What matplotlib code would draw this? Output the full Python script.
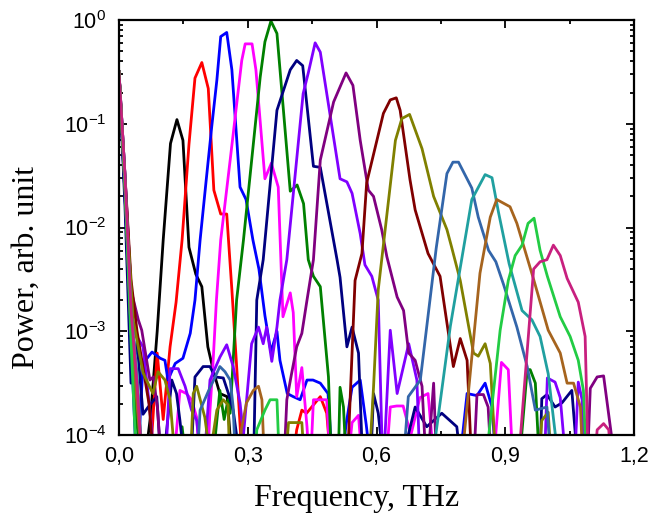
import matplotlib
matplotlib.use('Agg')
import matplotlib.pyplot as plt
import numpy as np
from matplotlib.ticker import MultipleLocator, FuncFormatter, LogLocator, NullFormatter

plt.rcParams['font.family'] = ['Liberation Sans', 'DejaVu Sans']
plt.rcParams['mathtext.default'] = 'regular'

# spectra: frequency (THz) and log10(power); -4.4 = below the plotted floor
f_black = [0, 0.014, 0.028, 0.042, 0.056, 0.074, 0.089, 0.103, 0.120, 0.135, 0.149, 0.163, 0.179, 0.193, 0.207, 0.221, 0.235, 0.252, 0.266]
lg_black = [-0.5, -1.7, -2.9, -3.5, -4.4, -3.8, -3.0, -2.12, -1.19, -0.96, -1.16, -2.19, -2.45, -2.57, -3.15, -3.4, -3.6, -3.63, -4.4]

f_red = [0, 0.014, 0.028, 0.042, 0.056, 0.075, 0.089, 0.103, 0.119, 0.133, 0.147, 0.163, 0.177, 0.193, 0.208,
         0.221, 0.237, 0.251, 0.263, 0.275, 0.289, 0.400, 0.414, 0.426, 0.437, 0.453, 0.469, 0.484, 0.496]
lg_red = [-0.5, -1.6, -3.0, -3.7, -4.4, -4.1, -3.21, -3.85, -3.15, -2.72, -2.12, -1.2, -0.56, -0.41, -0.66,
          -1.64, -1.87, -1.87, -2.6, -3.4, -4.4, -4.4, -3.95, -3.76, -3.79, -3.71, -3.63, -3.79, -4.4]

f_blue = [0, 0.014, 0.028, 0.042, 0.056, 0.077, 0.096, 0.107, 0.114, 0.131, 0.149, 0.166, 0.177, 0.189, 0.203,
          0.216, 0.228, 0.237, 0.251, 0.263, 0.282, 0.296, 0.312, 0.326, 0.340, 0.354, 0.368, 0.375, 0.392, 0.406,
          0.422, 0.438, 0.452, 0.469, 0.487, 0.499, 0.515, 0.529, 0.543, 0.562, 0.576, 0.590, 0.790, 0.811, 0.834,
          0.853, 0.869, 0.881]
lg_blue = [-0.5, -1.7, -3.1, -4.4, -3.31, -3.2, -3.26, -3.28, -3.47, -3.31, -3.26, -3.02, -2.7, -2.12, -1.55,
           -1.03, -0.58, -0.16, -0.12, -0.48, -1.61, -1.73, -2.12, -2.4, -2.85, -3.2, -3.0, -3.28, -3.6, -3.63,
           -3.66, -3.47, -3.47, -3.5, -3.6, -4.4, -4.4, -3.9, -3.54, -3.47, -3.9, -4.4, -4.4, -3.6, -3.62,
           -3.5, -3.73, -4.4]

f_mag = [0, 0.014, 0.028, 0.042, 0.056, 0.125, 0.142, 0.157, 0.169, 0.181, 0.190, 0.205, 0.212, 0.219, 0.227,
         0.237, 0.259, 0.286, 0.294, 0.310, 0.319, 0.340, 0.355, 0.371, 0.382, 0.399, 0.406, 0.414, 0.426, 0.438,
         0.445, 0.453, 0.461, 0.484, 0.494, 0.530, 0.543, 0.558, 0.569, 0.620, 0.632, 0.647, 0.662, 0.680, 0.701,
         0.720, 0.737, 0.870, 0.891, 0.907, 0.919]
lg_mag = [-0.5, -1.6, -2.9, -3.5, -4.4, -4.4, -3.57, -3.6, -3.66, -3.83, -4.4, -4.4, -3.76, -3.31, -2.7,
          -2.12, -1.35, -0.39, -0.23, -0.23, -0.48, -1.53, -1.38, -1.61, -2.86, -2.63, -2.82, -3.63, -3.35, -3.92,
          -4.4, -3.66, -3.66, -3.66, -4.4, -4.4, -3.88, -3.81, -4.4, -4.4, -3.73, -3.72, -3.72, -4.0, -3.64,
          -3.6, -4.4, -4.4, -3.3, -3.37, -4.4]

f_green = [0, 0.014, 0.028, 0.042, 0.056, 0.135, 0.147, 0.160, 0.215, 0.235, 0.245, 0.254, 0.259, 0.274, 0.290,
           0.329, 0.340, 0.354, 0.368, 0.399, 0.415, 0.430, 0.441, 0.453, 0.469, 0.488, 0.496, 0.510, 0.515, 0.523,
           0.531, 0.930, 0.951, 0.958, 0.970, 0.981]
lg_green = [-0.5, -1.6, -3.1, -3.9, -4.4, -4.4, -3.92, -4.4, -4.4, -3.57, -3.85, -3.66, -3.79, -2.7, -2.12,
            -0.55, -0.21, -0.01, -0.13, -1.65, -1.59, -1.77, -2.31, -2.47, -2.57, -3.44, -4.4, -4.4, -3.54, -3.73,
            -4.4, -4.4, -3.37, -3.37, -3.5, -4.4]

f_navy = [0, 0.014, 0.028, 0.042, 0.056, 0.068, 0.088, 0.100, 0.123, 0.134, 0.142, 0.156, 0.166, 0.177, 0.196,
          0.212, 0.224, 0.243, 0.255, 0.266, 0.274, 0.282, 0.313, 0.321, 0.336, 0.368, 0.399, 0.414, 0.428, 0.453,
          0.469, 0.508, 0.515, 0.531, 0.543, 0.558, 0.569, 0.585, 0.593, 0.604, 0.620, 0.650, 0.690, 0.717, 0.752,
          0.787, 0.800, 0.980, 0.985, 0.997, 1.016, 1.032, 1.055, 1.071]
lg_navy = [-0.5, -1.8, -3.5, -3.1, -3.8, -3.73, -3.63, -4.4, -3.47, -3.6, -3.86, -4.4, -4.4, -3.44, -3.34,
           -3.34, -3.44, -3.45, -3.6, -3.76, -4.0, -4.4, -4.4, -2.7, -2.31, -0.87, -0.48, -0.39, -0.44, -1.41,
           -1.42, -2.31, -2.48, -3.15, -2.96, -3.21, -4.4, -4.4, -3.6, -3.79, -4.4, -4.4, -3.73, -3.92, -3.79,
           -3.92, -4.4, -4.4, -3.65, -3.61, -3.73, -3.69, -3.57, -4.4]

f_vio = [0, 0.014, 0.033, 0.056, 0.072, 0.086, 0.107, 0.119, 0.138, 0.154, 0.169, 0.181, 0.196, 0.212, 0.235,
         0.251, 0.266, 0.282, 0.290, 0.309, 0.325, 0.336, 0.344, 0.356, 0.368, 0.375, 0.391, 0.429, 0.441, 0.457,
         0.469, 0.515, 0.531, 0.543, 0.562, 0.573, 0.589, 0.604, 0.615, 0.632, 0.648, 0.675, 0.694, 0.702, 0.990,
         0.998, 1.016, 1.028, 1.044, 1.060, 1.070, 1.079, 1.086]
lg_vio = [-0.5, -1.5, -2.99, -3.15, -3.76, -4.4, -4.4, -3.36, -3.36, -3.53, -3.76, -3.86, -4.4, -3.47, -3.25,
          -3.13, -3.34, -3.69, -4.0, -3.12, -2.96, -3.12, -2.96, -3.29, -2.96, -2.7, -2.31, -0.71, -0.51, -0.22,
          -0.31, -1.53, -1.56, -1.67, -2.06, -2.36, -2.47, -2.7, -4.4, -2.99, -3.6, -3.12, -3.47, -4.4, -4.4,
          -3.45, -3.49, -3.64, -4.4, -4.4, -3.49, -3.66, -4.4]

f_pur = [0, 0.014, 0.028, 0.045, 0.053, 0.072, 0.080, 0.090, 0.100, 0.383, 0.391, 0.402, 0.414, 0.426, 0.438,
         0.453, 0.469, 0.500, 0.529, 0.545, 0.562, 0.581, 0.593, 0.612, 0.624, 0.648, 0.663, 0.675, 0.690, 0.706,
         0.717, 0.733, 0.741, 0.825, 0.834, 0.849, 0.860, 0.869, 1.090, 1.098, 1.114, 1.129, 1.160]
lg_pur = [-0.5, -1.5, -2.6, -2.89, -2.99, -3.47, -3.44, -3.75, -4.4, -4.4, -3.66, -3.41, -3.15, -3.02, -2.7,
          -2.31, -1.35, -0.79, -0.51, -0.63, -1.16, -1.64, -1.7, -2.02, -2.28, -2.67, -2.8, -3.21, -3.28, -3.53,
          -4.4, -3.5, -4.4, -4.4, -3.61, -3.61, -3.73, -4.4, -4.4, -3.55, -3.44, -3.43, -4.4]

f_mar = [0, 0.014, 0.028, 0.042, 0.056, 0.070, 0.084, 0.531, 0.550, 0.566, 0.577, 0.616, 0.632, 0.646, 0.655,
         0.678, 0.690, 0.720, 0.734, 0.748, 0.779, 0.795, 0.811, 0.823]
lg_mar = [-0.5, -1.5, -2.5, -3.0, -3.35, -3.7, -4.4, -4.4, -2.51, -2.25, -1.57, -0.9, -0.77, -0.75, -0.87,
          -1.54, -1.83, -2.25, -2.36, -2.47, -3.34, -3.07, -3.28, -4.4]

f_oli = [0, 0.014, 0.033, 0.056, 0.079, 0.091, 0.107, 0.119, 0.134, 0.165, 0.173, 0.181, 0.200, 0.212, 0.228,
         0.243, 0.254, 0.259, 0.385, 0.395, 0.406, 0.426, 0.434, 0.581, 0.593, 0.604, 0.644, 0.659, 0.677, 0.706,
         0.733, 0.764, 0.775, 0.795, 0.826, 0.837, 0.853, 0.865, 0.880, 0.975, 0.985, 1.000, 1.009]
lg_oli = [-0.5, -1.6, -2.89, -3.4, -3.6, -3.39, -3.47, -3.66, -4.4, -4.4, -3.6, -3.53, -3.83, -4.2, -3.76,
          -3.66, -3.71, -4.4, -4.4, -3.88, -3.88, -3.88, -4.4, -4.4, -3.54, -2.6, -1.16, -0.95, -0.91, -1.24,
          -1.7, -2.02, -2.19, -2.51, -3.21, -3.24, -3.12, -3.31, -4.4, -4.4, -3.86, -3.78, -4.4]

f_stl = [0, 0.014, 0.028, 0.042, 0.056, 0.180, 0.189, 0.208, 0.224, 0.235, 0.247, 0.259, 0.266, 0.273, 0.660,
         0.674, 0.702, 0.739, 0.764, 0.778, 0.791, 0.822, 0.837, 0.861, 0.878, 0.896, 0.927, 0.951, 0.970, 0.997,
         1.009]
lg_stl = [-0.5, -1.6, -3.0, -3.6, -4.4, -4.4, -3.76, -3.58, -3.44, -3.34, -3.39, -3.47, -3.73, -4.4, -4.4,
          -3.63, -3.47, -2.2, -1.48, -1.37, -1.37, -1.62, -1.9, -2.22, -2.33, -2.55, -2.96, -3.34, -3.76, -3.73,
          -4.4]

f_teal = [0, 0.014, 0.028, 0.042, 0.056, 0.725, 0.772, 0.822, 0.853, 0.869, 0.884, 0.909, 0.939, 0.962, 0.981,
          1.000, 1.028]
lg_teal = [-0.5, -1.5, -2.8, -3.4, -4.4, -4.4, -2.95, -1.73, -1.49, -1.52, -1.85, -2.35, -2.8, -2.89, -3.05,
           -3.41, -4.4]

f_brn = [0, 0.014, 0.028, 0.042, 0.056, 0.280, 0.285, 0.297, 0.313, 0.325, 0.333, 0.340, 0.795, 0.841, 0.865,
         0.880, 0.911, 0.927, 0.966, 1.000, 1.028, 1.044, 1.059, 1.075, 1.082]
lg_brn = [-0.5, -1.6, -3.0, -3.7, -4.4, -4.4, -3.95, -3.69, -3.57, -3.53, -3.66, -4.4, -4.4, -2.44, -1.9,
          -1.73, -1.8, -1.96, -2.5, -2.99, -3.21, -3.5, -3.5, -3.73, -4.4]

f_lime = [0, 0.014, 0.028, 0.042, 0.315, 0.321, 0.340, 0.352, 0.368, 0.375, 0.851, 0.888, 0.907, 0.923, 0.939,
          0.953, 0.967, 0.981, 0.998, 1.028, 1.051, 1.070, 1.082, 1.090]
lg_lime = [-0.5, -1.6, -3.1, -4.4, -4.4, -3.95, -3.76, -3.66, -3.66, -4.4, -4.4, -2.99, -2.51, -2.27, -2.17,
           -1.96, -1.91, -2.22, -2.47, -2.86, -3.05, -3.28, -3.57, -4.4]

f_pink = [0, 0.014, 0.028, 0.042, 0.056, 0.928, 0.966, 0.981, 0.997, 1.012, 1.028, 1.044, 1.070, 1.086, 1.094,
          1.105, 1.114, 1.129, 1.141, 1.150]
lg_pink = [-0.5, -1.5, -2.8, -3.5, -4.4, -4.4, -2.4, -2.33, -2.31, -2.17, -2.27, -2.49, -2.72, -3.05, -4.4,
           -4.4, -3.95, -3.89, -3.95, -4.4]

series = [
    (f_black, lg_black, '#000000'),
    (f_red, lg_red, '#ff0000'),
    (f_blue, lg_blue, '#0000ff'),
    (f_mag, lg_mag, '#ff00ff'),
    (f_green, lg_green, '#008000'),
    (f_navy, lg_navy, '#000080'),
    (f_vio, lg_vio, '#8000ff'),
    (f_pur, lg_pur, '#800080'),
    (f_mar, lg_mar, '#800000'),
    (f_oli, lg_oli, '#808000'),
    (f_stl, lg_stl, '#3366aa'),
    (f_teal, lg_teal, '#20a0a0'),
    (f_brn, lg_brn, '#a6641e'),
    (f_lime, lg_lime, '#22cc44'),
    (f_pink, lg_pink, '#c8207f'),
]

fig = plt.figure(figsize=(6.52, 5.21), dpi=100)
ax = fig.add_axes([0.1825, 0.165, 0.79, 0.7966])

for f, lg, c in series:
    ax.plot(f, np.power(10.0, lg), color=c, lw=2.0)

ax.set_yscale('log')
ax.set_ylim(1e-4, 1)
ax.set_xlim(0, 1.2)

ax.xaxis.set_major_locator(MultipleLocator(0.3))
ax.xaxis.set_minor_locator(MultipleLocator(0.15))
ax.xaxis.set_major_formatter(FuncFormatter(lambda v, p: "{:.1f}".format(v).replace('.', ',')))
ax.yaxis.set_major_locator(LogLocator(base=10, numticks=10))
ax.yaxis.set_minor_locator(LogLocator(base=10, subs=np.arange(2, 10), numticks=10))
ax.yaxis.set_minor_formatter(NullFormatter())

ax.tick_params(which='both', direction='in', top=True, right=True, width=1.3, labelsize=15.5)
ax.tick_params(which='major', length=5.8)
ax.tick_params(which='minor', length=3.0)
ax.tick_params(axis='x', pad=8)
ax.tick_params(axis='y', pad=9)
for s in ax.spines.values():
    s.set_linewidth(1.6)

fig.text(0.547, 0.044, 'Frequency, THz', family='Liberation Serif', fontsize=23, ha='center', va='center')
fig.text(0.040, 0.486, 'Power, arb. unit', family='Liberation Serif', fontsize=23, ha='center', va='center',
         rotation=90)

fig.savefig('out.png', dpi=100)
